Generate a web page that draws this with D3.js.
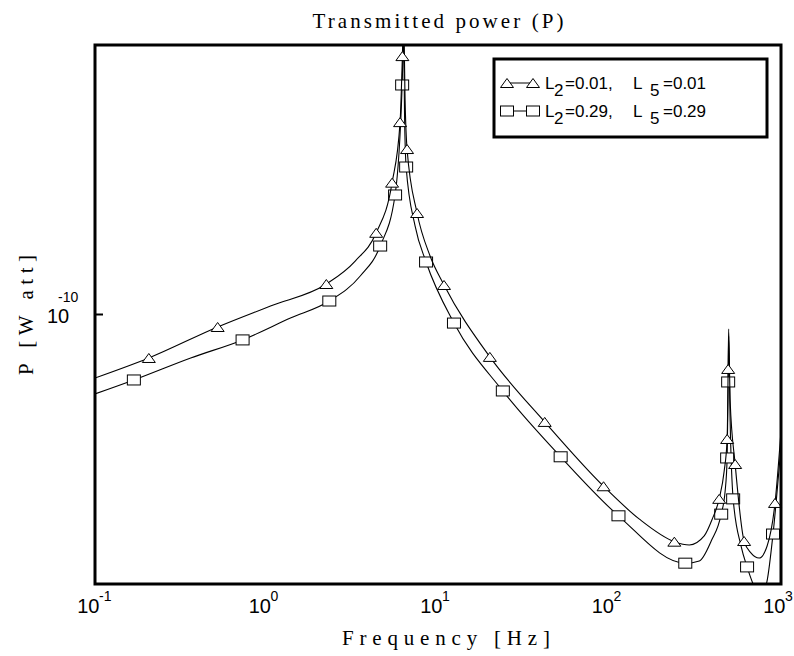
<!DOCTYPE html>
<html><head><meta charset="utf-8">
<script src="https://cdn.jsdelivr.net/npm/d3@7"></script>
<style>body{margin:0;background:#fff}svg{display:block}</style>
</head><body>
<svg id="chart" width="794" height="656"></svg>
<script>
// ---- data ----
const freqTri = [0.1,0.206,0.519,1.055,2.233,3.29,4.36,5.40,6.01,6.20,6.30,6.43,6.60,7.55,8.99,10.84,20.06,41.9,92.3,149.4,238.8,291.9,356.7,397.1,436.1,466.3,485.3,491.9,495.2,505.2,540.3,609.3,669.3,745.0,829.0,922.9,1000];
const powerTri = [6.84e-11,7.71e-11,9.28e-11,1.052e-10,1.20e-10,1.377e-10,1.63e-10,2.20e-10,3.16e-10,4.69e-10,6.0e-10,3.585e-10,2.69e-10,1.835e-10,1.419e-10,1.193e-10,7.76e-11,5.26e-11,3.58e-11,2.94e-11,2.57e-11,2.52e-11,2.66e-11,2.94e-11,3.32e-11,3.92e-11,4.75e-11,7.22e-11,9.17e-11,5.96e-11,4.09e-11,2.58e-11,2.40e-11,2.33e-11,2.50e-11,3.24e-11,4.98e-11];
const markTri = [1,2,4,6,7,8,9,12,13,15,16,17,18,20,24,26,27,30,31,35];

const freqSq = [0.1,0.1685,0.3614,0.7254,1.379,2.324,3.52,4.60,5.62,6.18,6.30,6.39,6.52,7.35,8.52,12.39,23.88,51.9,112.8,276.6,333.8,391.8,448.0,472.4,485.3,491.9,495.2,505.2,526.0,585.5,634.2,696.6,765.0,829.0,898.4,1000];
const powerSq = [6.22e-11,6.76e-11,7.71e-11,8.59e-11,9.79e-11,1.084e-10,1.259e-10,1.506e-10,2.044e-10,3.946e-10,5.2e-10,3.18e-10,2.416e-10,1.698e-10,1.369e-10,9.50e-11,6.33e-11,4.27e-11,3.00e-11,2.26e-11,2.29e-11,2.58e-11,3.03e-11,3.48e-11,4.24e-11,6.68e-11,8.79e-11,5.29e-11,3.32e-11,2.50e-11,2.21e-11,1.97e-11,1.86e-11,2.03e-11,2.69e-11,4.55e-11];
const markSq = [1,3,5,7,8,9,12,14,15,16,17,18,19,22,24,25,28,30,34];

const xTickValues = [0.1,1,10,100,1000];
const xTickExp = ["-1","0","1","2","3"];
const yTickValues = [1e-10];
const yTickExp = ["-10"];
const legendLabels = [
  {sym:"triangle", a:"0.01", b:"0.01"},
  {sym:"square",   a:"0.29", b:"0.29"}
];
const titleText = "Transmitted power (P)";
const xLabelText = "Frequency [Hz]";
const yLabelText = "P [W att]";

// ---- layout ----
const L = 95, R = 781, T = 45, B = 584;
const svg = d3.select("#chart");
const x = d3.scaleLog().domain([0.1, 1000]).range([L, R]);
const y = d3.scaleLog().domain([Math.pow(10,-10.7), Math.pow(10,-9.3)]).range([B, T]);

svg.append("defs").append("clipPath").attr("id","clip")
  .append("rect").attr("x",L).attr("y",T).attr("width",R-L).attr("height",B-T);

const serif = "'Liberation Serif','Times New Roman',serif";
const sans = "'Liberation Sans',Arial,Helvetica,sans-serif";

const line = d3.line().x(d=>x(d[0])).y(d=>y(d[1])).curve(d3.curveMonotoneX);

function triPath(cx, cy){ const w=6.5,h=4.5; return `M${cx-w},${cy+h}L${cx+w},${cy+h}L${cx},${cy-h}Z`; }

function drawSeries(fr, pw, marks, sym){
  const pts = fr.map((f,i)=>[f,pw[i]]);
  const g = svg.append("g").attr("clip-path","url(#clip)");
  g.append("path").attr("d", line(pts)).attr("fill","none").attr("stroke","#000").attr("stroke-width",1.1);
  const mg = svg.append("g");
  marks.forEach(i=>{
    const cx = x(fr[i]), cy = y(pw[i]);
    if(sym==="triangle"){
      mg.append("path").attr("d", triPath(cx,cy)).attr("fill","#fff").attr("stroke","#000").attr("stroke-width",1);
    } else {
      mg.append("rect").attr("x",cx-6.5).attr("y",cy-5).attr("width",13).attr("height",10)
        .attr("fill","#fff").attr("stroke","#000").attr("stroke-width",1);
    }
  });
}
drawSeries(freqSq, powerSq, markSq, "square");
drawSeries(freqTri, powerTri, markTri, "triangle");

// frame
svg.append("rect").attr("x",L).attr("y",T).attr("width",R-L).attr("height",B-T)
  .attr("fill","none").attr("stroke","#000").attr("stroke-width",3);

// y tick
yTickValues.forEach((v,i)=>{
  svg.append("line").attr("x1",L).attr("x2",L+8).attr("y1",y(v)).attr("y2",y(v)).attr("stroke","#000").attr("stroke-width",2);
  svg.append("text").attr("x",47).attr("y",y(v)+8).attr("font-family",sans).attr("font-size",20).text("10");
  svg.append("text").attr("x",58).attr("y",y(v)-13).attr("font-family",sans).attr("font-size",14).text(yTickExp[i]);
});

// x tick labels: "10" ends just right of the tick, exponent follows
xTickValues.forEach((v,i)=>{
  const px = x(v);
  svg.append("text").attr("x",px+4.5).attr("y",613).attr("text-anchor","end")
    .attr("font-family",sans).attr("font-size",20).text("10");
  svg.append("text").attr("x",px+4).attr("y",601).attr("text-anchor","start")
    .attr("font-family",sans).attr("font-size",14).text(xTickExp[i]);
});

// title & axis labels
svg.append("text").attr("x",(L+R)/2).attr("y",28).attr("text-anchor","middle")
  .attr("font-family",serif).attr("font-size",21).attr("textLength",251).attr("lengthAdjust","spacing").text(titleText);
svg.append("text").attr("x",446).attr("y",645).attr("text-anchor","middle")
  .attr("font-family",serif).attr("font-size",21).attr("textLength",208).attr("lengthAdjust","spacing").text(xLabelText);
svg.append("text").attr("transform","translate(33,315) rotate(-90)").attr("text-anchor","middle")
  .attr("font-family",serif).attr("font-size",21).attr("textLength",120).attr("lengthAdjust","spacing").text(yLabelText);

// legend
const lg = svg.append("g");
lg.append("rect").attr("x",494).attr("y",59).attr("width",273).attr("height",78)
  .attr("fill","#fff").attr("stroke","#000").attr("stroke-width",3);
legendLabels.forEach((d,i)=>{
  const cy = i===0 ? 83 : 111;
  const base = i===0 ? 88.5 : 116.5;
  lg.append("line").attr("x1",507).attr("x2",533).attr("y1",cy).attr("y2",cy).attr("stroke","#000").attr("stroke-width",1);
  [507,533].forEach(cx=>{
    if(d.sym==="triangle") lg.append("path").attr("d",triPath(cx,cy)).attr("fill","#fff").attr("stroke","#000");
    else lg.append("rect").attr("x",cx-6.5).attr("y",cy-5).attr("width",13).attr("height",10).attr("fill","#fff").attr("stroke","#000");
  });
  const parts = [
    {x:545,t:"L",dy:0},{x:554,t:"2",dy:7.5},{x:565,t:"=" + d.a + ",",dy:0},
    {x:633,t:"L",dy:0},{x:650,t:"5",dy:7.5},{x:663,t:"=" + d.b,dy:0}
  ];
  parts.forEach(p=>{
    lg.append("text").attr("x",p.x).attr("y",base+p.dy).attr("font-family",sans).attr("font-size",17).text(p.t);
  });
});
</script>
</body></html>
